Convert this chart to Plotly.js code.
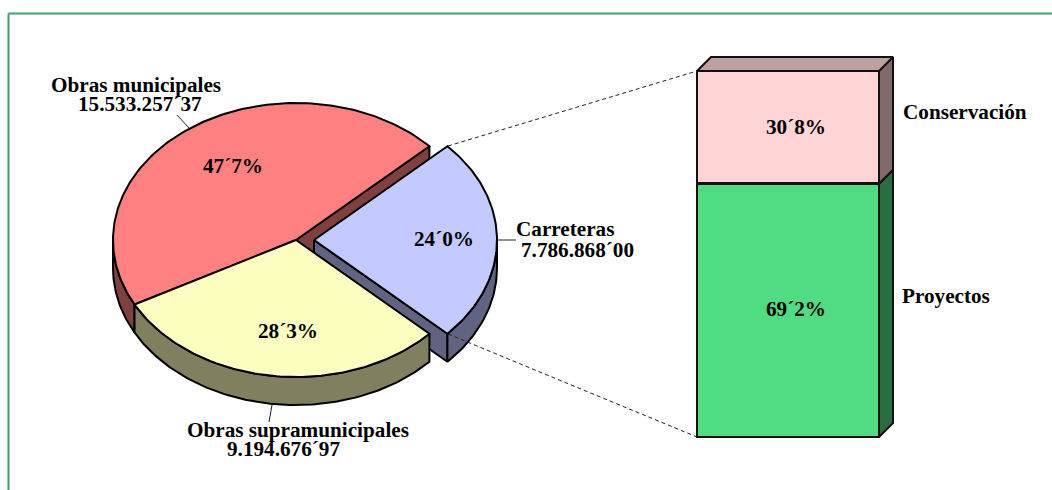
<!DOCTYPE html>
<html><head><meta charset="utf-8">
<script src="https://cdn.plot.ly/plotly-3.0.1.min.js"></script>
<style>html,body{margin:0;padding:0;background:#fff}#c{width:1052px;height:490px}</style>
</head><body><div id="c"></div>
<script>
// ---- data ----
const pieNames = ["Obras municipales", "Obras supramunicipales", "Carreteras"];
const pieAmounts = ["15.533.257´37", "9.194.676´97", "7.786.868´00"];
const pieLabels = ["47´7%", "28´3%", "24´0%"];
const pieDrawnShares = [45.8, 30.2, 24.0];      // sweep of each slice as drawn
const pieTop = ["#FF8080", "#FCFFC0", "#C2CAFF"];
const pieWall = ["#804040", "#808060", "#606480"];
const barNames = ["Proyectos", "Conservación"];
const barValues = [69.2, 30.8];
const barLabels = ["69´2%", "30´8%"];
const barFront = ["#50DC82", "#FFD5D5"];
const barSide = ["#286E41", "#806A6A"];
const barTopColor = "#BFA0A0";

// ---- geometry ----
const W = 1052, H = 490;
const CX = 296, CY = 240, RX = 183, RY = 137, DEPTH = 28, EXPLODE = 18, START = 43.2;
const BX0 = 697, BX1 = 879, BY0 = 437, BY1 = 71, BDX = 14, BDY = 14, PAD = 4;

const pt = (cx, t, dy = 0) => [cx + RX * Math.cos(t * Math.PI / 180), CY - RY * Math.sin(t * Math.PI / 180) + dy];
function arc(cx, a, b, dy = 0) {
  const out = [], n = Math.max(2, Math.ceil(Math.abs(b - a)));
  for (let i = 0; i <= n; i++) out.push(pt(cx, a + (b - a) * i / n, dy));
  return out;
}
const poly = (pts, fill, name) => ({
  type: "scatter", mode: "lines", x: pts.map(p => p[0]), y: pts.map(p => p[1]),
  fill: "toself", fillcolor: fill, line: { color: "#000", width: 2 },
  hoverinfo: "skip", showlegend: false, name: name || "", xaxis: "x", yaxis: "y"
});

// slice angles
const sweep = pieDrawnShares.map(s => s * 3.6);
const a0 = START, a1 = a0 + sweep[0], a2 = a1 + sweep[1], a3 = a2 + sweep[2];
const bx = CX + EXPLODE;
const close = p => p.concat([p[0]]);
const traces = [];

// red: cut wall, outer wall, top
const rE = pt(CX, a0);
traces.push(poly(close([[CX, CY], rE, [rE[0], rE[1] + DEPTH], [CX, CY + DEPTH]]), pieWall[0]));
traces.push(poly(close(arc(CX, 180, a1).concat(arc(CX, a1, 180, DEPTH))), pieWall[0]));
traces.push(poly(close([[CX, CY]].concat(arc(CX, a0, a1))), pieTop[0], pieNames[0]));
// blue: cut wall, outer wall, top
const bE = pt(bx, a2);
traces.push(poly(close([[bx, CY], bE, [bE[0], bE[1] + DEPTH], [bx, CY + DEPTH]]), pieWall[2]));
traces.push(poly(close(arc(bx, a2, 360).concat(arc(bx, 360, a2, DEPTH))), pieWall[2]));
traces.push(poly(close([[bx, CY]].concat(arc(bx, a2, a3))), pieTop[2], pieNames[2]));
// yellow: outer wall, top
traces.push(poly(close(arc(CX, a1, a2).concat(arc(CX, a2, a1, DEPTH))), pieWall[1]));
traces.push(poly(close([[CX, CY]].concat(arc(CX, a1, a2))), pieTop[1], pieNames[1]));

// ---- stacked bar, on its own 0-100 axis ----
const bw = BX1 - BX0, bh = BY0 - BY1;
const ex = BDX / bw, ey = BDY / bh * 100;
const px = PAD / bw, py = PAD / bh * 100;   // room so the outline is not clipped
const edge = { color: "#111", width: 2.6 };
const barPoly = (pts, fill) => ({
  type: "scatter", mode: "lines", x: pts.map(p => p[0]), y: pts.map(p => p[1]),
  fill: "toself", fillcolor: fill, line: { color: "#111", width: 2 },
  hoverinfo: "skip", showlegend: false, xaxis: "x2", yaxis: "y2"
});
let base = 0;
barValues.forEach((v, i) => {
  traces.push(barPoly(close([[1, base], [1 + ex, base + ey], [1 + ex, base + v + ey], [1, base + v]]), barSide[i]));
  base += v;
});
traces.push(barPoly(close([[0, 100], [ex, 100 + ey], [1 + ex, 100 + ey], [1, 100]]), barTopColor));
barValues.forEach((v, i) => {
  traces.push({
    type: "bar", x: [0.5], y: [v], width: [1], name: barNames[i],
    marker: { color: barFront[i], line: edge },
    hoverinfo: "skip", showlegend: false, xaxis: "x2", yaxis: "y2"
  });
});

// ---- texts ----
const FONT = "Liberation Serif, Times New Roman, serif";
const txt = (x, y, text, anchor) => ({
  x, y, xref: "x", yref: "y", text, showarrow: false, xanchor: anchor || "center", yanchor: "middle",
  font: { family: FONT, size: 21.2, color: "#000" }, borderpad: 0, borderwidth: 0
});
const bold = s => "<b>" + s + "</b>";
const annotations = [
  txt(136, 85, bold(pieNames[0])), txt(140, 104, bold(pieAmounts[0])),
  txt(233, 166, bold(pieLabels[0])),
  txt(298, 430, bold(pieNames[1])), txt(283, 449, bold(pieAmounts[1])),
  txt(288, 331, bold(pieLabels[1])),
  txt(516, 229, bold(pieNames[2]), "left"), txt(521, 250, bold(pieAmounts[2]), "left"),
  txt(444, 239, bold(pieLabels[2])),
  txt(795.5, 127, bold(barLabels[1])), txt(795.5, 309, bold(barLabels[0])),
  txt(903, 112, bold(barNames[1]), "left"), txt(902, 296, bold(barNames[0]), "left")
];

const seg = (x0, y0, x1, y1, color, width, dash) => ({
  type: "line", xref: "x", yref: "y", x0, y0, x1, y1, layer: "above",
  line: { color, width, dash: dash || "solid" }
});
const GREEN = "#3FA070";
const shapes = [
  seg(8.5, 13.5, W, 13.5, GREEN, 2), seg(8.5, 13.5, 8.5, H, GREEN, 2),
  seg(177, 115, 189, 128, "#222", 1), seg(272, 405, 269, 422, "#222", 1), seg(498, 240, 516, 240, "#222", 1),
  seg(448, 146, BX0, BY1, "#222", 1, "4px,3px"), seg(448, 334, BX0, BY0, "#222", 1, "4px,3px")
];

const hidden = { visible: false, fixedrange: true };
const layout = {
  width: W, height: H, margin: { l: 0, r: 0, t: 0, b: 0 }, paper_bgcolor: "#fff", plot_bgcolor: "rgba(0,0,0,0)",
  showlegend: false, barmode: "stack", hovermode: false,
  xaxis: { ...hidden, range: [0, W], domain: [0, 1] },
  yaxis: { ...hidden, range: [H, 0], domain: [0, 1] },
  xaxis2: { ...hidden, range: [-px, 1 + ex + px], domain: [(BX0 - PAD) / W, (BX1 + BDX + PAD) / W], anchor: "y2" },
  yaxis2: { ...hidden, range: [-py, 100 + ey + py], domain: [1 - (BY0 + PAD) / H, 1 - (BY1 - BDY - PAD) / H], anchor: "x2" },
  annotations, shapes
};
Plotly.newPlot("c", traces, layout, { displayModeBar: false, staticPlot: true });
</script></body></html>
